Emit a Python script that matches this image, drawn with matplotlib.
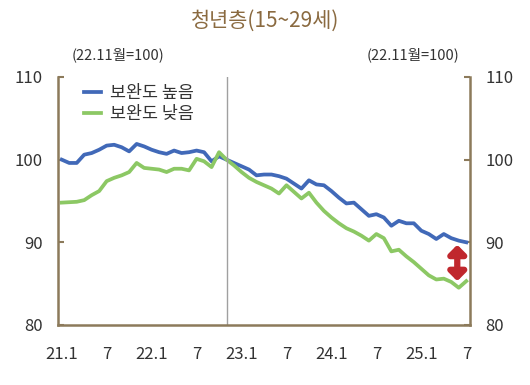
import numpy as np
import matplotlib
matplotlib.use("Agg")
import matplotlib.pyplot as plt

plt.rcParams['font.family'] = ['Noto Sans CJK KR', 'DejaVu Sans']

# monthly, 21.1 ~ 25.7 (22.11 = 100)
high = [100.0, 99.6, 99.6, 100.6, 100.8, 101.2, 101.7, 101.8, 101.5, 101.0,
        101.9, 101.6, 101.2, 100.9, 100.7, 101.1, 100.8, 100.9, 101.1, 100.9,
        99.8, 100.4, 100.0, 99.6, 99.2, 98.8, 98.1, 98.2, 98.2, 98.0,
        97.7, 97.1, 96.5, 97.5, 97.0, 96.9, 96.2, 95.4, 94.7, 94.8,
        94.0, 93.2, 93.4, 93.0, 92.0, 92.6, 92.3, 92.3, 91.4, 91.0,
        90.4, 91.0, 90.5, 90.2, 90.0]
low = [94.8, 94.85, 94.9, 95.1, 95.7, 96.2, 97.4, 97.8, 98.1, 98.5,
       99.6, 99.0, 98.9, 98.8, 98.5, 98.9, 98.9, 98.7, 100.1, 99.8,
       99.1, 100.9, 100.0, 99.3, 98.5, 97.8, 97.3, 96.9, 96.5, 95.9,
       96.9, 96.1, 95.3, 96.0, 94.8, 93.8, 93.0, 92.3, 91.7, 91.3,
       90.8, 90.2, 91.0, 90.5, 88.9, 89.1, 88.3, 87.6, 86.8, 86.0,
       85.5, 85.6, 85.2, 84.5, 85.3]
tick_pos = [0, 6, 12, 18, 24, 30, 36, 42, 48, 54]
tick_labels = ['21.1', '7', '22.1', '7', '23.1', '7', '24.1', '7', '25.1', '7']
base_idx = 22
gap_top, gap_bottom = 89.7, 85.3
gap_idx = 52.8

brown = '#8c7a5b'
text_c = '#333333'

fig = plt.figure(figsize=(5.3, 3.85), dpi=100)
ax = fig.add_axes([0.1094, 0.156, 0.7774, 0.644])

x = np.arange(len(high))
ax.plot(x, high, color='#4169b8', lw=2.7, label='보완도 높음', solid_joinstyle='round')
ax.plot(x, low, color='#8cc864', lw=2.7, label='보완도 낮음', solid_joinstyle='round')
ax.axvline(base_idx, color='#a0a0a0', lw=1)

# gap arrow
ax.annotate('', xy=(gap_idx, gap_bottom), xytext=(gap_idx, gap_top),
            arrowprops=dict(arrowstyle='<|-|>,head_width=0.5,head_length=0.5',
                            color='#c0272d', lw=4.5, shrinkA=0, shrinkB=0))

ax.set_xlim(-0.5, len(high) - 0.5)
ax.set_ylim(80, 110)
ax.set_yticks([80, 90, 100, 110])
ax.set_xticks(tick_pos)
ax.set_xticklabels(tick_labels)

for s in ['left', 'right', 'bottom']:
    ax.spines[s].set_color(brown)
    ax.spines[s].set_linewidth(1.8)
ax.spines['top'].set_visible(False)

ax.tick_params(axis='y', direction='in', length=4, width=1.5, color=brown,
               left=True, right=True, labelleft=True, labelright=True,
               labelsize=12, labelcolor=text_c, pad=11)
ax.tick_params(axis='x', length=0, labelsize=12, labelcolor=text_c, pad=15)

leg = ax.legend(loc='upper left', bbox_to_anchor=(0.025, 1.035), frameon=False,
                handlelength=1.0, handletextpad=0.5, labelspacing=0.2,
                fontsize=12.5)
for t in leg.get_texts():
    t.set_color(text_c)

fig.text(0.5, 0.945, '청년층(15~29세)', ha='center', va='center',
         fontsize=15, color='#8a6a40')
fig.text(0.222, 0.857, '(22.11월=100)', ha='center', va='center',
         fontsize=10.5, color=text_c)
fig.text(0.78, 0.857, '(22.11월=100)', ha='center', va='center',
         fontsize=10.5, color=text_c)

fig.savefig('out.png', dpi=100)
